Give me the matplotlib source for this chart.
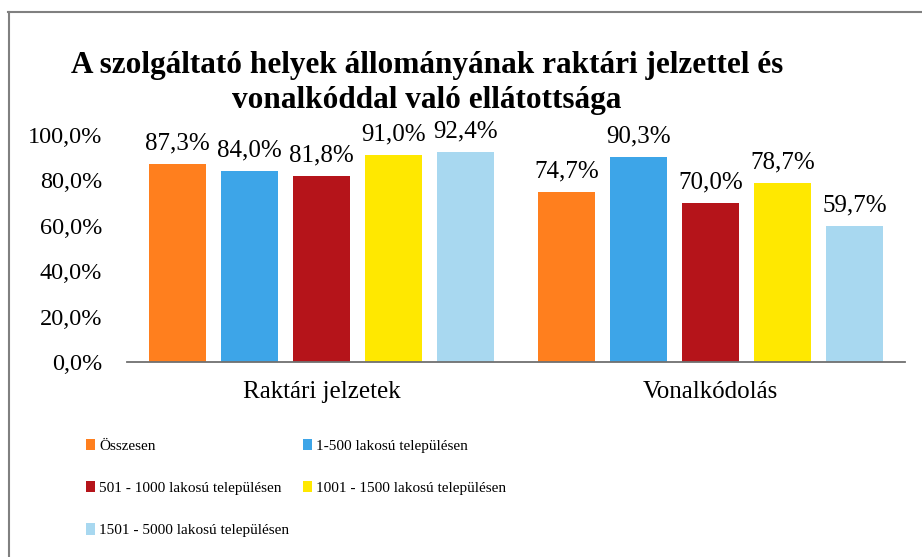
import matplotlib
matplotlib.use("Agg")
import matplotlib.pyplot as plt
import numpy as np
from matplotlib.lines import Line2D

plt.rcParams["font.family"] = ["Liberation Serif", "DejaVu Serif"]

# ── adatok ──
categories = ["Raktári jelzetek", "Vonalkódolás"]
series = ["Összesen", "1-500 lakosú településen", "501 - 1000 lakosú településen",
          "1001 - 1500 lakosú településen", "1501 - 5000 lakosú településen"]
values = [
    [87.3, 74.7],
    [84.0, 90.3],
    [81.8, 70.0],
    [91.0, 78.7],
    [92.4, 59.7],
]
yticks = [0, 20, 40, 60, 80, 100]
colors = ["#FF7F1E", "#3DA5E8", "#B5141A", "#FFE800", "#A8D8F0"]
title = "A szolgáltató helyek állományának raktári jelzettel és\nvonalkóddal való ellátottsága"

W, H = 922, 557
fig = plt.figure(figsize=(W / 100, H / 100), dpi=100)
ax = fig.add_axes([127 / W, 1 - 362 / H, (905 - 127) / W, (362 - 135) / H])

x = np.arange(len(categories))
bw, pitch = 0.147, 0.185
bars = []
for i, (name, vals) in enumerate(zip(series, values)):
    b = ax.bar(x + (i - 2) * pitch, vals, width=bw, color=colors[i], label=name)
    bars.append(b)
    for rect, v in zip(b, vals):
        ax.text(rect.get_x() + rect.get_width() / 2, v + 4.3,
                f"{v:.1f}%".replace(".", ","), ha="center", va="bottom", fontsize=18)

ax.set_xlim(-0.5, 1.5)
ax.set_ylim(0, 100)
ax.set_yticks(yticks)
ax.set_yticklabels([f"{t:.1f}%".replace(".", ",") for t in yticks], fontsize=17.5)
ax.set_xticks(x)
ax.set_xticklabels(categories, fontsize=18)
ax.tick_params(length=0, pad=14)
ax.tick_params(axis="y", pad=18)
for s in ["top", "right", "left"]:
    ax.spines[s].set_visible(False)
ax.spines["bottom"].set_color("#707070")
ax.spines["bottom"].set_linewidth(1.3)

fig.text(427 / W, 1 - 83 / H, title, ha="center", va="center", fontsize=22.5,
         fontweight="bold", linespacing=1.25)

# legenda: sorfolytonos sorrend
order = [0, 2, 4, 1, 3]
leg = fig.legend([bars[i] for i in order], [series[i] for i in order],
                 ncol=2, loc="upper left", bbox_to_anchor=(80 / W, 1 - 433 / H),
                 frameon=False, fontsize=11, handlelength=0.6, handleheight=0.75,
                 handletextpad=0.25, columnspacing=0.9, labelspacing=1.85,
                 borderaxespad=0)

# szkennelt keret
fig.add_artist(Line2D([8 / W, 1], [1 - 12 / H, 1 - 12 / H], transform=fig.transFigure,
                      color="#808080", lw=1.5))
fig.add_artist(Line2D([9 / W, 9 / W], [0, 1 - 12 / H], transform=fig.transFigure,
                      color="#808080", lw=1.5))

fig.savefig("out.png", dpi=100)
